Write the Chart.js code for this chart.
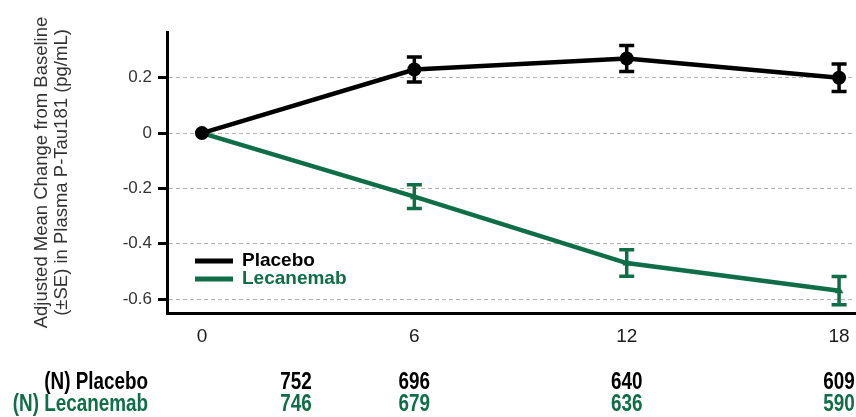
<!DOCTYPE html>
<html>
<head>
<meta charset="utf-8">
<script src="https://cdn.jsdelivr.net/npm/chart.js@4/dist/chart.umd.min.js"></script>
<style>
  html, body { margin: 0; padding: 0; background: #fff; overflow: hidden; }
  canvas { display: block; }
</style>
</head>
<body>
<canvas id="chart" width="862" height="417"></canvas>
<script>
// Visit months and adjusted mean change (±SE) per arm
const months = [0, 6, 12, 18];
const placeboMean = [0, 0.23, 0.27, 0.20];
const placeboSE = [0, 0.045, 0.047, 0.050];
const lecanemabMean = [0, -0.23, -0.47, -0.57];
const lecanemabSE = [0, 0.043, 0.048, 0.051];

// Participants at each visit
const placeboN = [752, 696, 640, 609];
const lecanemabN = [746, 679, 636, 590];

// Axis ticks
const xTicks = [0, 6, 12, 18];
const yTicks = [0.2, 0, -0.2, -0.4, -0.6];

const GREEN = '#0f6e47';
const BLACK = '#000000';
const SANS = '"Liberation Sans", Arial, sans-serif';

const toPoints = (mean) => months.map((m, i) => ({ x: m, y: mean[i] }));

// Vertical SE bars with caps
const errorBars = {
  id: 'errorBars',
  afterDatasetsDraw(chart) {
    const { ctx, scales: { x, y } } = chart;
    const arms = [
      { mean: placeboMean, se: placeboSE, color: BLACK },
      { mean: lecanemabMean, se: lecanemabSE, color: GREEN }
    ];
    ctx.save();
    arms.forEach(arm => {
      ctx.strokeStyle = arm.color;
      ctx.lineWidth = 3.5;
      months.forEach((m, i) => {
        if (!arm.se[i]) return;
        const px = x.getPixelForValue(m);
        const top = y.getPixelForValue(arm.mean[i] + arm.se[i]);
        const bot = y.getPixelForValue(arm.mean[i] - arm.se[i]);
        const cap = 7.5;
        ctx.beginPath();
        ctx.moveTo(px, top); ctx.lineTo(px, bot);
        ctx.moveTo(px - cap, top); ctx.lineTo(px + cap, top);
        ctx.moveTo(px - cap, bot); ctx.lineTo(px + cap, bot);
        ctx.stroke();
      });
    });
    ctx.restore();
  }
};

// Legend inside the plot, lower left
const insideLegend = {
  id: 'insideLegend',
  afterDraw(chart) {
    const { ctx, chartArea } = chart;
    const items = [
      { label: 'Placebo', color: BLACK },
      { label: 'Lecanemab', color: GREEN }
    ];
    const x0 = chartArea.left + 28;
    const y0 = chartArea.bottom - 52;
    ctx.save();
    ctx.font = 'bold 19px ' + SANS;
    ctx.textBaseline = 'middle';
    items.forEach((it, i) => {
      const yy = y0 + i * 18;
      ctx.strokeStyle = it.color;
      ctx.lineWidth = 5;
      ctx.beginPath();
      ctx.moveTo(x0, yy); ctx.lineTo(x0 + 38, yy);
      ctx.stroke();
      ctx.fillStyle = it.color;
      ctx.fillText(it.label, x0 + 47, yy);
    });
    ctx.restore();
  }
};

// Condensed text: regular face squeezed horizontally
function narrowText(ctx, text, x, y, align) {
  ctx.save();
  ctx.translate(x, y);
  ctx.scale(0.82, 1);
  ctx.textAlign = align;
  ctx.fillText(text, 0, 0);
  ctx.restore();
}

// Number-at-risk table under the x axis
const nTable = {
  id: 'nTable',
  afterDraw(chart) {
    const { ctx, scales: { x } } = chart;
    const rows = [
      { label: '(N) Placebo', values: placeboN, color: BLACK, y: 383 },
      { label: '(N) Lecanemab', values: lecanemabN, color: GREEN, y: 405 }
    ];
    ctx.save();
    ctx.textBaseline = 'middle';
    ctx.font = 'bold 23px ' + SANS;
    rows.forEach(r => {
      ctx.fillStyle = r.color;
      narrowText(ctx, r.label, 148, r.y, 'right');
      r.values.forEach((v, i) => {
        const cx = i === 0 ? 296 : x.getPixelForValue(months[i]);
        narrowText(ctx, String(v), cx, r.y, 'center');
      });
    });
    ctx.restore();
  }
};

new Chart(document.getElementById('chart'), {
  type: 'line',
  data: {
    datasets: [
      {
        label: 'Placebo',
        data: toPoints(placeboMean),
        borderColor: BLACK,
        backgroundColor: BLACK,
        borderWidth: 4.5,
        pointStyle: 'circle',
        pointRadius: 7,
        pointBorderWidth: 0,
        tension: 0
      },
      {
        label: 'Lecanemab',
        data: toPoints(lecanemabMean),
        borderColor: GREEN,
        backgroundColor: GREEN,
        borderWidth: 4.5,
        pointStyle: 'triangle',
        pointRadius: 5,
        pointBorderWidth: 0,
        tension: 0
      }
    ]
  },
  options: {
    responsive: false,
    animation: false,
    events: [],
    layout: { padding: { top: 32, left: 0, right: 0, bottom: 0 } },
    plugins: { legend: { display: false }, tooltip: { enabled: false } },
    scales: {
      x: {
        type: 'linear',
        min: -0.988,
        max: 18.45,
        afterBuildTicks: (s) => { s.ticks = xTicks.map(v => ({ value: v })); },
        afterFit: (s) => { s.height = 104; s.paddingLeft = 0; s.paddingRight = 0; },
        grid: { display: false, drawTicks: false },
        border: { display: true, color: BLACK, width: 3 },
        ticks: {
          padding: 12,
          color: '#1a1a1a',
          font: { family: SANS, size: 19 },
          maxRotation: 0,
          callback: (v) => String(v)
        }
      },
      y: {
        type: 'linear',
        min: -0.6506,
        max: 0.3656,
        afterBuildTicks: (s) => { s.ticks = yTicks.map(v => ({ value: v })); },
        afterFit: (s) => { s.width = 167; },
        grid: {
          color: '#b3b3b3',
          lineWidth: 1,
          drawTicks: true,
          tickLength: 9,
          tickColor: BLACK,
          tickWidth: 3
        },
        border: { display: true, color: BLACK, width: 3, dash: [4, 3] },
        ticks: {
          padding: 6,
          color: '#333333',
          font: { family: SANS, size: 17 },
          callback: (v) => (Math.abs(v) < 1e-9 ? '0' : String(Math.round(v * 10) / 10))
        },
        title: {
          display: true,
          text: ['Adjusted Mean Change from Baseline', '(\u00B1SE) in Plasma P-Tau181 (pg/mL)'],
          color: '#333333',
          font: { family: SANS, size: 18.5, lineHeight: 1.06 },
          padding: { top: 32, bottom: 0 }
        }
      }
    }
  },
  plugins: [errorBars, insideLegend, nTable]
});
</script>
</body>
</html>
